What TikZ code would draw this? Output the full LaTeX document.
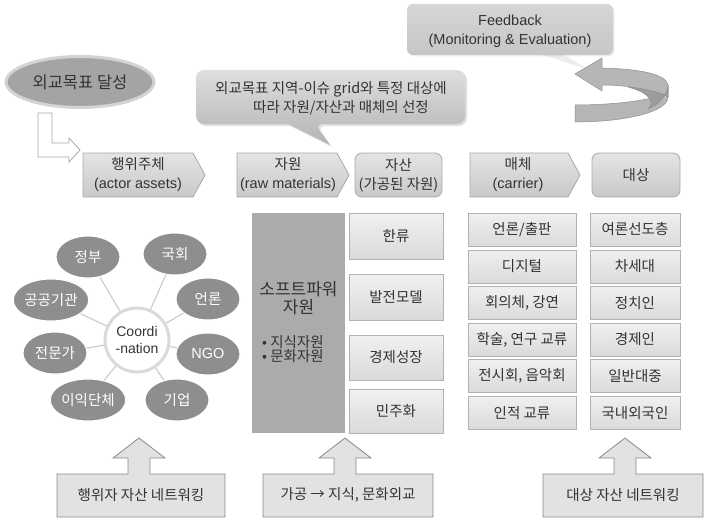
\documentclass[tikz,border=0pt]{standalone}
\usepackage{fontspec}
\setmainfont{Liberation Sans}
\newfontfamily\kr{Noto Sans CJK KR}
\usetikzlibrary{shapes.geometric,shadows}
\definecolor{textc}{HTML}{333333}
\definecolor{hdrtop}{HTML}{E4E4E4}
\definecolor{hdrbot}{HTML}{C9C9C9}
\definecolor{hdrline}{HTML}{A8A8A8}
\definecolor{ovalfill}{HTML}{8E8E8E}
\definecolor{spokec}{HTML}{CDCDCD}
\definecolor{circline}{HTML}{DADADA}
\definecolor{softfill}{HTML}{ABABAB}
\definecolor{boxtop}{HTML}{F0F0F0}
\definecolor{boxbot}{HTML}{DADADA}
\definecolor{boxline}{HTML}{B2B2B2}
\definecolor{calltop}{HTML}{DEDEDE}
\definecolor{callbot}{HTML}{B4B4B4}
\definecolor{fbtop}{HTML}{D6D6D6}
\definecolor{fbbot}{HTML}{C6C6C6}
\definecolor{arrfill}{HTML}{B6B6B6}
\definecolor{arrdark}{HTML}{9C9C9C}
\definecolor{arrline}{HTML}{8E8E8E}
\definecolor{goalfill}{HTML}{A4A4A4}
\definecolor{goalline}{HTML}{D4D4D4}
\definecolor{botfill}{HTML}{E2E2E2}
\definecolor{botline}{HTML}{8A8A8A}
\begin{document}
\begin{tikzpicture}[x=1pt,y=-1pt,
  kt/.style={font=\kr\fontsize{14.5}{19}\selectfont, text=textc, align=center, inner sep=0pt},
  et/.style={font=\fontsize{14.5}{19}\selectfont, text=textc, align=center, inner sep=0pt},
  hdrshape/.style={draw=hdrline, line width=0.8pt, top color=hdrtop, bottom color=hdrbot},
  hdrbox/.style={hdrshape, rounded corners=7pt, minimum height=44, inner sep=0pt, align=center, text=textc},
  oval/.style={ellipse, fill=ovalfill, draw=white, line width=1pt, minimum width=64, minimum height=42, inner sep=0pt, text=white, font=\kr\fontsize{14.5}{17}\selectfont},
  spoke/.style={draw=spokec, line width=1.2pt},
  rbox/.style={draw=boxline, line width=0.8pt, top color=boxtop, bottom color=boxbot, inner sep=0pt, text=textc, font=\kr\fontsize{14.5}{17}\selectfont},
  botshape/.style={draw=botline, line width=0.8pt, fill=botfill},
]
\useasboundingbox (0,0) rectangle (704,519);

% ---------- Feedback ----------
\fill[gray!14] (540,54) -- (562,54) -- (590,70) -- cycle;
\node[rounded corners=6pt, top color=fbtop, bottom color=fbbot, minimum width=206, minimum height=51, inner sep=0pt,
      drop shadow={opacity=0.15, shadow xshift=1.5pt, shadow yshift=-1.5pt}] (fb) at (510,29.5) {};
\node[et] (fbt) at (510,31) {Feedback\\(Monitoring \& Evaluation)};

% curved ribbon arrow
\path[fill=arrfill, draw=arrline, line width=0.5pt]
  (575,105) -- (575,122)
  .. controls (625,122) and (668,112) .. (668,97)
  -- (668,85)
  .. controls (666,74) and (640,69) .. (602,68)
  -- (602,58) -- (575,74) -- (602,91) -- (602,85)
  .. controls (628,85) and (648,89) .. (655,97)
  .. controls (638,102) and (605,105) .. (575,105) -- cycle;
\path[fill=arrdark, draw=arrline, line width=0.5pt]
  (628,87) .. controls (650,89) and (664,94) .. (668,97)
  -- (668,85) .. controls (667,95) and (660,104) .. (648,109)
  .. controls (655,102) and (650,93) .. (628,87) -- cycle;

% ---------- Goal ellipse ----------
\node[ellipse, fill=goalfill, draw=goalline, line width=3pt, minimum width=148, minimum height=51, inner sep=0pt,
      text=textc, font=\kr\fontsize{16.5}{19}\selectfont] (goal) at (80,82) {외교목표 달성};

% bent outline arrow
\path[draw=hdrline, line width=0.8pt, fill=white]
  (38,113) -- (52,113) -- (52,143) -- (69,143) -- (69,138) -- (80,150)
  -- (69,162) -- (69,157) -- (38,157) -- cycle;

% ---------- Callout ----------
\path[top color=calltop, bottom color=callbot, drop shadow={opacity=0.25, shadow xshift=2pt, shadow yshift=-2pt}]
  [rounded corners=8pt] (196,70) -- (465,70) -- (465,124) -- (315,124)
  [sharp corners] -- (330,145) -- (288,124)
  [rounded corners=8pt] -- (196,124) -- cycle;
\node[kt] (callt1) at (331,89) {외교목표 지역-이슈 grid와 특정 대상에};
\node[kt] (callt2) at (341,107.5) {따라 자원/자산과 매체의 선정};

% ---------- Header row ----------
\path[hdrshape] (83,153) -- (193,153) -- (205,175) -- (193,197) -- (83,197) -- cycle;
\node[et] (h1) at (138,175) {{\kr 행위주체}\\(actor assets)};
\path[hdrshape] (237,153) -- (337,153) -- (349,175) -- (337,197) -- (237,197) -- cycle;
\node[et] (h2) at (288,175) {{\kr 자원}\\(raw materials)};
\node[hdrbox, minimum width=87, font=\kr\fontsize{14.5}{19}\selectfont] (h3) at (398.5,175) {자산\\(가공된 자원)};
\path[hdrshape] (470,153) -- (568,153) -- (580,175) -- (568,197) -- (470,197) -- cycle;
\node[et] (h4) at (518,175) {{\kr 매체}\\(carrier)};
\node[hdrbox, minimum width=88, font=\kr\fontsize{14.5}{19}\selectfont] (h5) at (636,175) {대상};

% ---------- Actor cluster ----------
\node[circle, draw=circline, line width=3pt, fill=white, minimum size=64, inner sep=0pt,
      align=center, text=textc, font=\fontsize{14}{17}\selectfont] (co) at (137,340) {Coordi\\-nation};
\node[oval] (e1) at (88,257) {정부};
\node[oval] (e2) at (175,254) {국회};
\node[oval] (e3) at (51,300) {공공기관};
\node[oval] (e4) at (208,299) {언론};
\node[oval] (e5) at (55,353) {전문가};
\node[oval, font=\fontsize{14.5}{17}\selectfont] (e6) at (208,354) {NGO};
\node[oval] (e7) at (88,400) {이익단체};
\node[oval] (e8) at (177,400) {기업};
\foreach \e in {e1,e2,e3,e4,e5,e6,e7,e8} \draw[spoke] (co) -- (\e);

% ---------- Soft power ----------
\node[fill=softfill, minimum width=93, minimum height=220, inner sep=0pt, anchor=north west] (sp) at (252,213) {};
\node[kt, font=\kr\fontsize{17}{18}\selectfont] (spt) at (298.5,298) {소프트파워\\자원};
\node[kt, align=left, anchor=west, font=\kr\fontsize{14.5}{14.5}\selectfont] (spb) at (262,349) {• 지식자원\\• 문화자원};

\node[rbox, minimum width=94, minimum height=46] (r1) at (396,236) {한류};
\node[rbox, minimum width=94, minimum height=46] (r2) at (396,297) {발전모델};
\node[rbox, minimum width=94, minimum height=45] (r3) at (396,357.5) {경제성장};
\node[rbox, minimum width=94, minimum height=44] (r4) at (396,411) {민주화};

% ---------- Media / Targets ----------
\node[rbox, minimum width=108, minimum height=33] (m1) at (522,229.5) {언론/출판};
\node[rbox, minimum width=108, minimum height=33] (m2) at (522,266.5) {디지털};
\node[rbox, minimum width=108, minimum height=33] (m3) at (522,303) {회의체, 강연};
\node[rbox, minimum width=108, minimum height=33] (m4) at (522,339.5) {학술, 연구 교류};
\node[rbox, minimum width=108, minimum height=33] (m5) at (522,376) {전시회, 음악회};
\node[rbox, minimum width=108, minimum height=33] (m6) at (522,413) {인적 교류};

\node[rbox, minimum width=90, minimum height=33] (t1) at (635,229.5) {여론선도층};
\node[rbox, minimum width=90, minimum height=33] (t2) at (635,266.5) {차세대};
\node[rbox, minimum width=90, minimum height=33] (t3) at (635,303) {정치인};
\node[rbox, minimum width=90, minimum height=33] (t4) at (635,339.5) {경제인};
\node[rbox, minimum width=90, minimum height=33] (t5) at (635,376) {일반대중};
\node[rbox, minimum width=90, minimum height=33] (t6) at (635,413) {국내외국인};

% ---------- Bottom block arrows ----------
\path[botshape] (57,517) -- (57,474) -- (128,474) -- (128,458) -- (113,458) -- (139,438)
  -- (165,458) -- (150,458) -- (150,474) -- (225,474) -- (225,517) -- cycle;
\node[kt] (b1) at (141,495) {행위자 자산 네트워킹};
\path[botshape] (263,517) -- (263,474) -- (334,474) -- (334,458) -- (319,458) -- (345,438)
  -- (371,458) -- (356,458) -- (356,474) -- (433,474) -- (433,517) -- cycle;
\node[kt] (b2) at (348,495) {가공 → 지식, 문화외교};
\path[botshape] (543,517) -- (543,474) -- (614,474) -- (614,458) -- (599,458) -- (625,438)
  -- (651,458) -- (636,458) -- (636,474) -- (703,474) -- (703,517) -- cycle;
\node[kt] (b3) at (623,495) {대상 자산 네트워킹};
\end{tikzpicture}
\end{document}
